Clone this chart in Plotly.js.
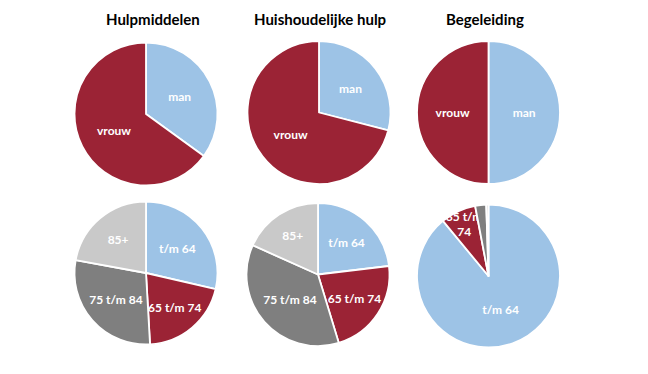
<!DOCTYPE html>
<html>
<head>
<meta charset="utf-8">
<script src="https://cdn.plot.ly/plotly-3.0.1.min.js"></script>
<style>html,body{margin:0;padding:0;background:#fff;}#chart{width:648px;height:374px;}</style>
</head>
<body>
<div id="chart"></div>
<script>
// Column titles
const columnTitles = ['Hulpmiddelen', 'Huishoudelijke hulp', 'Begeleiding'];

// Gender split (top row)
const genderLabels = ['man', 'vrouw'];
const hulpmiddelenGender = [35, 65];
const huishoudelijkeGender = [29, 71];
const begeleidingGender = [50, 50];

// Age split (bottom row)
const ageLabels = ['t/m 64', '65 t/m 74', '75 t/m 84', '85+'];
const hulpmiddelenAge = [28.6, 20.5, 28.8, 22.1];
const huishoudelijkeAge = [23.1, 22.2, 36.4, 18.3];
const begeleidingAge = [89.0, 8.0, 2.5, 0.5];
const begeleidingAgeText = ['t/m 64', '65 t/m<br>74', '', ''];

const genderColors = ['#9DC3E6', '#9B2335'];
const ageColors = ['#9DC3E6', '#9B2335', '#7F7F7F', '#C9C9C9'];

const W = 648, H = 374, R = 71.5;
function dom(cx, cy) {
  return {
    x: [(cx - R) / W, (cx + R) / W],
    y: [1 - (cy + R) / H, 1 - (cy - R) / H]
  };
}

function pie(values, labels, colors, cx, cy, text) {
  const t = {
    type: 'pie',
    values: values,
    labels: labels,
    sort: false,
    direction: 'clockwise',
    rotation: 0,
    domain: dom(cx, cy),
    marker: {colors: colors, line: {color: '#FFFFFF', width: 1.8}},
    textposition: 'inside',
    insidetextorientation: 'horizontal',
    textfont: {family: 'Lato, "Open Sans", sans-serif', size: 12, weight: 'bold', color: '#FFFFFF'},
    hoverinfo: 'none',
    showlegend: false
  };
  if (text) { t.text = text; t.textinfo = 'text'; } else { t.textinfo = 'label'; }
  return t;
}

const data = [
  pie(hulpmiddelenGender, genderLabels, genderColors, 146, 114),
  pie(huishoudelijkeGender, genderLabels, genderColors, 319, 112.5),
  pie(begeleidingGender, genderLabels, genderColors, 488.5, 112.5),
  pie(hulpmiddelenAge, ageLabels, ageColors, 146, 273),
  pie(huishoudelijkeAge, ageLabels, ageColors, 318, 274.5),
  pie(begeleidingAge, ageLabels, ageColors, 488.5, 276, begeleidingAgeText)
];

const titleX = [153, 320, 485];
const annotations = columnTitles.map((t, i) => ({
  text: '<b>' + t + '</b>',
  x: titleX[i] / W, y: 1 - 19.5 / H,
  xref: 'paper', yref: 'paper',
  xanchor: 'center', yanchor: 'middle',
  showarrow: false,
  font: {family: 'Lato, "Open Sans", sans-serif', size: 15, color: '#000000'}
}));

const layout = {
  width: W, height: H,
  margin: {l: 0, r: 0, t: 0, b: 0},
  paper_bgcolor: '#FFFFFF',
  annotations: annotations,
  uniformtext: {mode: 'show', minsize: 12},
  showlegend: false
};

Plotly.newPlot('chart', data, layout, {displayModeBar: false, staticPlot: true});
</script>
</body>
</html>
